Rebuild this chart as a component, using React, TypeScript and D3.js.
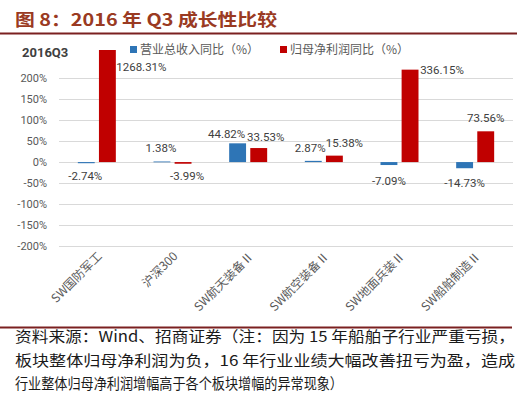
import React from 'react';
import * as d3 from 'd3';

const categories = ['SW国防军工', '沪深300', 'SW航天装备Ⅱ', 'SW航空装备Ⅱ', 'SW地面兵装Ⅱ', 'SW船舶制造Ⅱ'];
const seriesNames = ['营业总收入同比（%）', '归母净利润同比（%）'];
const revenueValues = [-2.74, 1.38, 44.82, 2.87, -7.09, -14.73];
// bar heights as drawn in the source (the 336.15% bar is drawn at about 221%; 1268.31% is clipped)
const profitValues = [1268.31, -3.99, 33.53, 15.38, 221, 73.56];
const revenueLabels = ['-2.74%', '1.38%', '44.82%', '2.87%', '-7.09%', '-14.73%'];
const profitLabels = ['1268.31%', '-3.99%', '33.53%', '15.38%', '336.15%', '73.56%'];
const yTicks = [-200, -150, -100, -50, 0, 50, 100, 150, 200];
const titleText = '图 8：2016 年 Q3 成长性比较';
const chartLabel = '2016Q3';
const footnoteLines = [
  '资料来源：Wind、招商证券（注：因为 15 年船舶子行业严重亏损，',
  '板块整体归母净利润为负，16 年行业业绩大幅改善扭亏为盈，造成',
  '行业整体归母净利润增幅高于各个板块增幅的异常现象）',
];

// label nudges (layout only)
const revenueNudge = [[-1, 0], [-1, 0], [-11, 4], [-3, 0], [0, 3], [0, 2]];
const profitNudge = [[34, 30], [4, -1], [7, 2], [10, 0], [32, 13], [0, 0]];

const COLORS = ['#2E75B6', '#C00000'];
const NUM_FONT = 'Roboto, "Noto Sans CJK SC", sans-serif';
const CJK_FONT = '"Noto Sans CJK SC", sans-serif';

export default function App() {
  const W = 524, H = 393;
  const plotLeft = 59, plotRight = 513;
  const y = d3.scaleLinear().domain([-200, 268]).range([245.7, 50]).clamp(true);
  const x0 = d3.scaleBand<string>().domain(categories).range([plotLeft, plotRight]);
  const bw = x0.bandwidth();
  const x1 = d3.scaleBand<string>().domain(['rev', 'profit']).range([bw / 2 - 19, bw / 2 + 19]).paddingInner(0.2);

  const series = [
    { key: 'rev', values: revenueValues, labels: revenueLabels, nudge: revenueNudge, color: COLORS[0] },
    { key: 'profit', values: profitValues, labels: profitLabels, nudge: profitNudge, color: COLORS[1] },
  ];

  return (
    <div style={{ position: 'absolute', left: 0, top: 0 }}>
      <svg width={W} height={H} style={{ display: 'block', background: '#fff' }}>
        {/* title */}
        <text x={15} y={26} fontFamily={CJK_FONT} fontWeight="bold" fontSize={17} fill="#9A3A22"
          textLength={262} lengthAdjust="spacingAndGlyphs">{titleText}</text>
        <line x1={0} x2={517} y1={33.5} y2={33.5} stroke="#7B2020" strokeWidth={2} />

        {/* gridlines */}
        {yTicks.map((t) => (
          <line key={t} x1={plotLeft} x2={plotRight} y1={Math.round(y(t)) + 0.5} y2={Math.round(y(t)) + 0.5}
            stroke="#D9D9D9" strokeWidth={1} />
        ))}
        {/* y tick labels */}
        {yTicks.map((t) => (
          <text key={'l' + t} x={47} y={y(t)} dy="0.35em" textAnchor="end" fontFamily={NUM_FONT}
            fontSize={11} fill="#595959">{t + '%'}</text>
        ))}

        {/* chart label */}
        <text x={22} y={56.5} fontFamily={NUM_FONT} fontWeight="bold" fontSize={13} fill="#404040">{chartLabel}</text>

        {/* legend */}
        {seriesNames.map((name, i) => {
          const lx = i === 0 ? 130 : 280;
          return (
            <g key={name}>
              <rect x={lx} y={46} width={7} height={7} fill={COLORS[i]} />
              <text x={lx + 10} y={50} dy="0.36em" fontFamily={CJK_FONT} fontSize={12} fill="#595959">{name}</text>
            </g>
          );
        })}

        {/* bars */}
        {series.map((s) => (
          <g key={s.key}>
            {categories.map((c, i) => {
              const v = s.values[i];
              const bx = (x0(c) as number) + (x1(s.key) as number);
              const y0 = y(0), yv = y(v);
              return (
                <rect key={c} x={bx} width={x1.bandwidth()} y={Math.min(y0, yv)}
                  height={Math.max(Math.abs(yv - y0), 0.8)} fill={s.color} />
              );
            })}
          </g>
        ))}

        {/* data labels */}
        {series.map((s) => (
          <g key={'lab' + s.key}>
            {categories.map((c, i) => {
              const v = s.values[i];
              const cx = (x0(c) as number) + (x1(s.key) as number) + x1.bandwidth() / 2;
              const yy = v >= 0 ? y(v) - 9 : y(v) + 17;
              return (
                <text key={c} x={cx + s.nudge[i][0]} y={yy + s.nudge[i][1]} textAnchor="middle"
                  fontFamily={NUM_FONT} fontSize={11.5} fill="#404040">{s.labels[i]}</text>
              );
            })}
          </g>
        ))}

        {/* category labels */}
        {categories.map((c) => {
          const cx = (x0(c) as number) + bw / 2 + 3;
          return (
            <text key={'c' + c} transform={`translate(${cx},${254}) rotate(-45)`} textAnchor="end"
              dy="0.35em" fontFamily={CJK_FONT} fontSize={12} fill="#595959">{c}</text>
          );
        })}

        {/* bottom rule */}
        <line x1={0} x2={512} y1={327.5} y2={327.5} stroke="#7B2020" strokeWidth={2} />

        {/* footnote */}
        {footnoteLines.map((line, i) => (
          <text key={i} x={15} y={342 + i * 23.5} fontFamily={CJK_FONT} fontSize={15} fill="#1a1a1a"
            textLength={i < 2 ? 500 : 328} lengthAdjust="spacingAndGlyphs">{line}</text>
        ))}
      </svg>
    </div>
  );
}
